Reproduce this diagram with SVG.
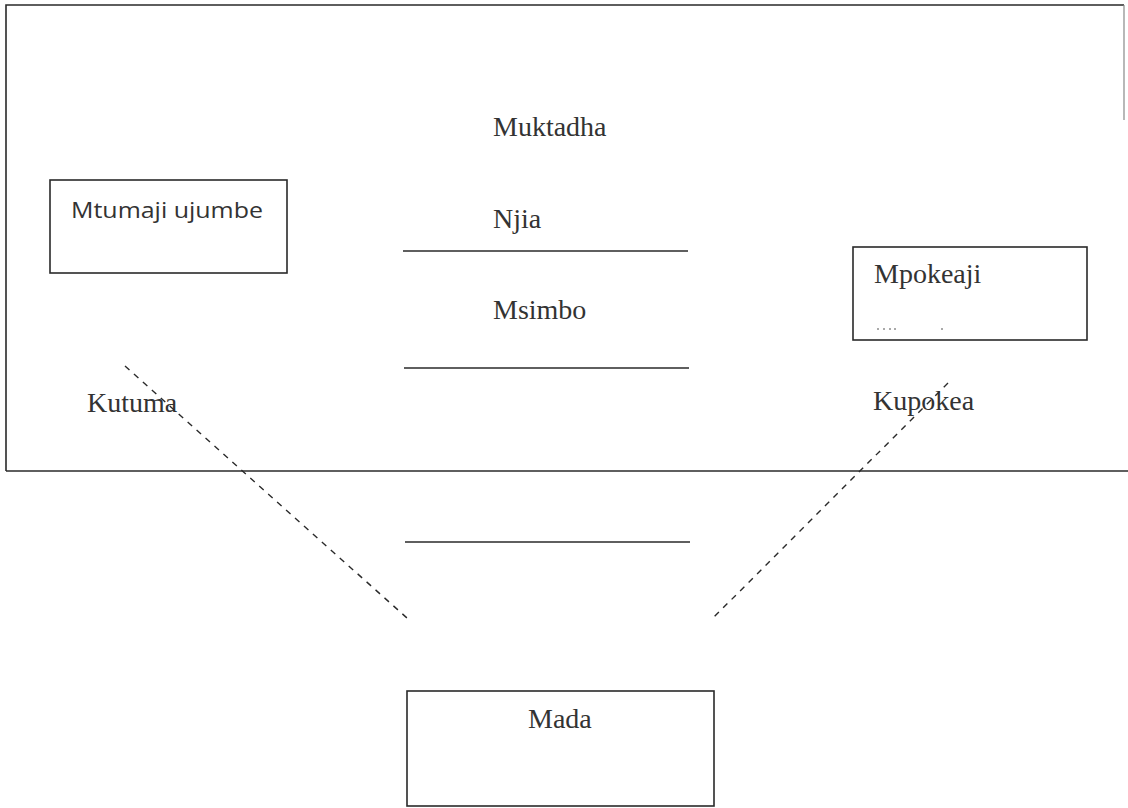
<svg xmlns="http://www.w3.org/2000/svg" width="1128" height="808" viewBox="0 0 1128 808">
<style>
.box{fill:none;stroke:#2a2a2a;stroke-width:1.6}
.rule{stroke:#2a2a2a;stroke-width:1.6}
.dash{stroke:#2a2a2a;stroke-width:1.4;stroke-dasharray:6 6;fill:none}
.t{font-family:"Liberation Serif","Times New Roman",serif;font-size:28px;fill:#333}
.s{font-family:"Open Sans","Liberation Sans",sans-serif;font-size:22px;fill:#333}
</style>
<rect width="1128" height="808" fill="#fff"/>
<g id="frame">
<path class="box" d="M6,471 V5 H1124"/>
<path d="M1124,5 V120" stroke="#888" stroke-width="1.2" fill="none"/>
<line class="rule" x1="6" y1="471" x2="1128" y2="471"/>
</g>
<g id="mtumaji">
<rect class="box" x="50" y="180" width="237" height="93"/>
<text class="s" x="71" y="218" textLength="192" lengthAdjust="spacingAndGlyphs">Mtumaji ujumbe</text>
</g>
<g id="mpokeaji">
<rect class="box" x="853" y="247" width="234" height="93"/>
<text class="t" x="874" y="283">Mpokeaji</text>
<path d="M877,329 h2 M883,329 h2 M889,329 h2 M894,329 h2 M941,329 h2" stroke="#555" stroke-width="1"/>
</g>
<g id="mada">
<rect class="box" x="407" y="691" width="307" height="115"/>
<text class="t" x="528" y="728">Mada</text>
</g>
<g id="muktadha">
<text class="t" x="493" y="136">Muktadha</text>
</g>
<g id="njia">
<text class="t" x="493" y="228">Njia</text>
</g>
<g id="msimbo">
<text class="t" x="493" y="319">Msimbo</text>
</g>
<g id="kutuma">
<text class="t" x="87" y="412">Kutuma</text>
</g>
<g id="kupokea">
<text class="t" x="873" y="410">Kupokea</text>
</g>
<g id="connectors">
<line class="rule" x1="403" y1="251" x2="688" y2="251"/>
<line class="rule" x1="404" y1="368" x2="689" y2="368"/>
<line class="rule" x1="405" y1="542" x2="690" y2="542"/>
<line class="dash" x1="125" y1="366" x2="407" y2="618"/>
<line class="dash" x1="948" y1="383" x2="713" y2="618"/>
</g>
</svg>
